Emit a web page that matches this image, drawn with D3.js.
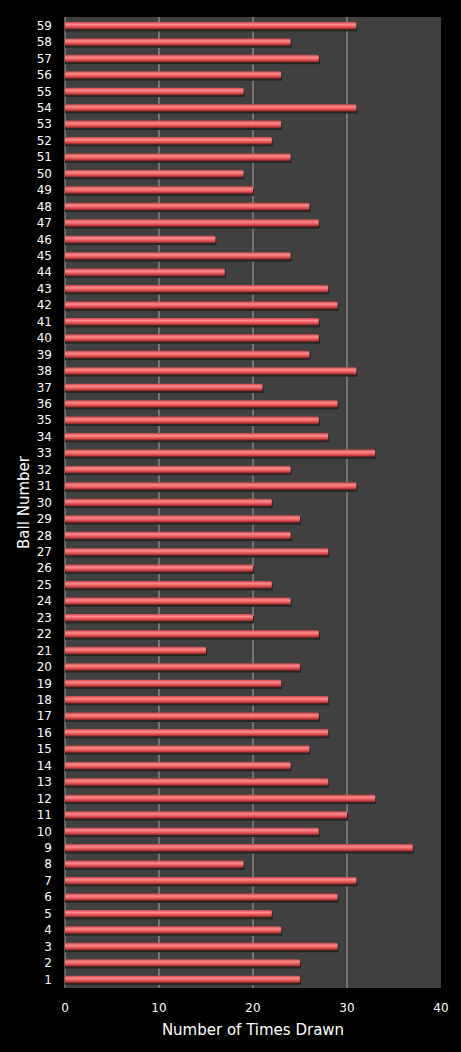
<!DOCTYPE html>
<html><head><meta charset="utf-8">
<script src="https://cdn.jsdelivr.net/npm/d3@7"></script>
<style>body{margin:0;background:#000}svg{display:block}text{font-family:"DejaVu Sans",sans-serif;fill:#fff}</style>
</head><body><svg id="chart" width="461" height="1052"></svg>
<script>
const balls = d3.range(1, 60);
const timesDrawn = [25,25,29,23,22,29,31,19,37,27,30,33,28,24,26,28,27,28,23,25,15,27,20,24,22,20,28,24,25,22,31,24,33,28,27,29,21,31,26,27,27,29,28,17,24,16,27,26,20,19,24,22,23,31,19,23,27,24,31];
const xTicks = [0,10,20,30,40];

const margin = {top: 17, right: 20, bottom: 64, left: 65};
const width = 461, height = 1052;
const svg = d3.select("#chart");

const x = d3.scaleLinear().domain([0, 40]).range([margin.left, width - margin.right]);
const y = d3.scaleBand().domain(balls.slice().reverse()).range([margin.top, height - margin.bottom]).paddingInner(0.55).paddingOuter(0.3);

const grad = svg.append("defs").append("linearGradient").attr("id", "bar").attr("x1", 0).attr("y1", 0).attr("x2", 0).attr("y2", 1);
grad.append("stop").attr("offset", "0%").attr("stop-color", "#c84848");
grad.append("stop").attr("offset", "35%").attr("stop-color", "#ff8a8a");
grad.append("stop").attr("offset", "70%").attr("stop-color", "#e05050");
grad.append("stop").attr("offset", "100%").attr("stop-color", "#8a2020");

svg.append("rect").attr("x", x(0)).attr("y", margin.top)
    .attr("width", x(40) - x(0)).attr("height", height - margin.bottom - margin.top).attr("fill", "#404040");

svg.append("g").selectAll("line").data(xTicks.slice(1, -1)).join("line")
    .attr("x1", d => x(d)).attr("x2", d => x(d))
    .attr("y1", margin.top).attr("y2", height - margin.bottom)
    .attr("stroke", "#a8a8a8").attr("stroke-width", 1);

svg.append("line").attr("x1", x(0)).attr("x2", x(0)).attr("y1", margin.top).attr("y2", height - margin.bottom).attr("stroke", "#a8a8a8");

// shadow
svg.append("g").selectAll("rect").data(balls).join("rect")
    .attr("x", x(0)).attr("y", d => y(d) + 2)
    .attr("width", d => x(timesDrawn[d - 1]) - x(0) + 1).attr("height", y.bandwidth())
    .attr("fill", "#262626");

svg.append("g").selectAll("rect").data(balls).join("rect")
    .attr("x", x(0)).attr("y", d => y(d))
    .attr("width", d => x(timesDrawn[d - 1]) - x(0)).attr("height", y.bandwidth())
    .attr("rx", 1.5).attr("fill", "url(#bar)");

svg.append("g").selectAll("text").data(balls).join("text")
    .attr("x", margin.left - 13).attr("y", d => y(d) + y.bandwidth() / 2)
    .attr("dy", "0.35em").attr("text-anchor", "end").attr("font-size", 12).text(d => d);

svg.append("g").selectAll("text").data(xTicks).join("text")
    .attr("x", d => x(d)).attr("y", height - margin.bottom + 24)
    .attr("text-anchor", "middle").attr("font-size", 12).text(d => d);

svg.append("text").attr("x", (x(0) + x(40)) / 2).attr("y", 1035)
    .attr("text-anchor", "middle").attr("font-size", 15).text("Number of Times Drawn");

svg.append("text").attr("transform", `translate(29,${(margin.top + height - margin.bottom) / 2}) rotate(-90)`)
    .attr("text-anchor", "middle").attr("font-size", 15).text("Ball Number");
</script></body></html>
